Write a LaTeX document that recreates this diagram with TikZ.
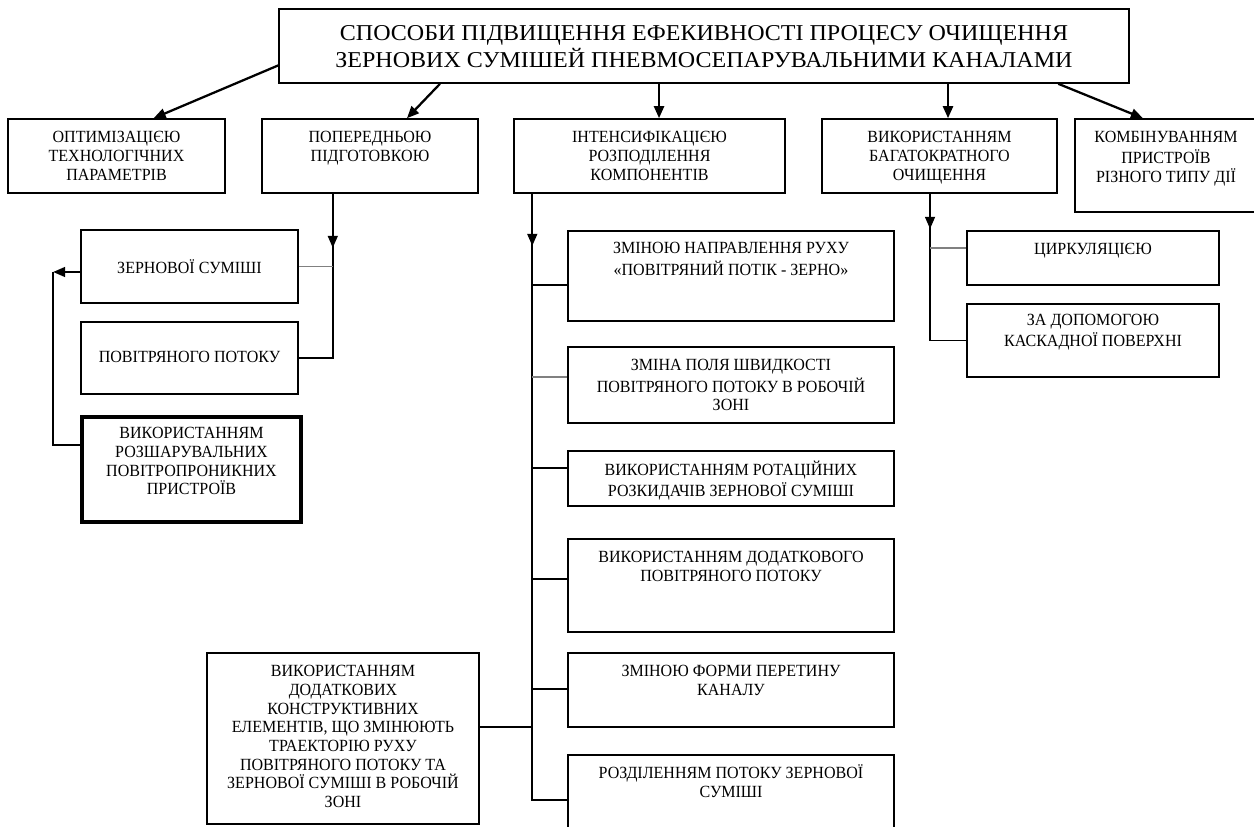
\documentclass[tikz,border=0pt]{standalone}
\usepackage{fontspec}
\setmainfont{Liberation Serif}[FakeStretch=0.94]
\newfontfamily\ttlfont{Liberation Serif}[FakeStretch=1.06]
\usetikzlibrary{arrows.meta,fit,calc}
\begin{document}
\begin{tikzpicture}[x=0.75pt,y=-0.75pt,
  box/.style={draw, line width=1.2pt, inner sep=0pt, rectangle},
  thickbox/.style={box, line width=2.4pt},
  txt/.style={anchor=north, inner sep=0pt, align=center, font=\fontsize{12.8}{14}\selectfont},
  ttl/.style={anchor=north, inner sep=0pt, align=center, font=\ttlfont\fontsize{17}{20.6}\selectfont},
  con/.style={line width=1.2pt},
  gcon/.style={line width=1.2pt, gray},
  arr/.style={line width=1.7pt, -{Triangle[length=9pt,width=7.5pt]}},
  varr/.style={line width=1.2pt, -{Triangle[length=9pt,width=7.5pt]}},
]
\fill[white] (0,0) rectangle (1254,827);
\useasboundingbox (0,0) rectangle (1254,827);

% title
\node[box, fit={(279,9)(1129,83)}] (title) {};
\node[ttl] (titlet) at (704,20.8) {\strut СПОСОБИ ПІДВИЩЕННЯ ЕФЕКИВНОСТІ ПРОЦЕСУ ОЧИЩЕННЯ\\ЗЕРНОВИХ СУМІШЕЙ ПНЕВМОСЕПАРУВАЛЬНИМИ КАНАЛАМИ};

% row of five
\node[box, fit={(8,119)(225,193)}] (b1) {};
\node[txt] (b1t) at (116.5,129.6) {\strut ОПТИМІЗАЦІЄЮ\\ТЕХНОЛОГІЧНИХ\\ПАРАМЕТРІВ};
\node[box, fit={(262,119)(478,193)}] (b2) {};
\node[txt] (b2t) at (370,129.6) {\strut ПОПЕРЕДНЬОЮ\\ПІДГОТОВКОЮ};
\node[box, fit={(514,119)(785,193)}] (b3) {};
\node[txt] (b3t) at (649.5,129.6) {\strut ІНТЕНСИФІКАЦІЄЮ\\РОЗПОДІЛЕННЯ\\КОМПОНЕНТІВ};
\node[box, fit={(822,119)(1057,193)}] (b4) {};
\node[txt] (b4t) at (939.5,129.6) {\strut ВИКОРИСТАННЯМ\\БАГАТОКРАТНОГО\\ОЧИЩЕННЯ};
\node[box, fit={(1075,119)(1257,212)}] (b5) {};
\node[txt] (b5t) at (1166,129.6) {\strut КОМБІНУВАННЯМ\\ПРИСТРОЇВ\\РІЗНОГО ТИПУ ДІЇ};

% left column
\node[box, fit={(81,230)(298,303)}] (zern) {};
\node[txt] (zernt) at (189.5,259.3) {\strut ЗЕРНОВОЇ СУМІШІ};
\node[box, fit={(81,322)(298,394)}] (pov) {};
\node[txt] (povt) at (189.5,349.6) {\strut ПОВІТРЯНОГО ПОТОКУ};
\node[thickbox, fit={(82,417)(301,522)}] (rozsh) {};
\node[txt] (rozsht) at (191.5,425.6) {\strut ВИКОРИСТАННЯМ\\РОЗШАРУВАЛЬНИХ\\ПОВІТРОПРОНИКНИХ\\ПРИСТРОЇВ};

% middle column
\node[box, fit={(568,231)(894,321)}] (m1) {};
\node[txt] (m1t) at (731,240.6) {\strut ЗМІНОЮ НАПРАВЛЕННЯ РУХУ\\«ПОВІТРЯНИЙ ПОТІК - ЗЕРНО»};
\node[box, fit={(568,347)(894,423)}] (m2) {};
\node[txt] (m2t) at (731,357.6) {\strut ЗМІНА ПОЛЯ ШВИДКОСТІ\\ПОВІТРЯНОГО ПОТОКУ В РОБОЧІЙ\\ЗОНІ};
\node[box, fit={(568,451)(894,506)}] (m3) {};
\node[txt] (m3t) at (731,460.6) {\strut ВИКОРИСТАННЯМ РОТАЦІЙНИХ\\РОЗКИДАЧІВ ЗЕРНОВОЇ СУМІШІ};
\node[box, fit={(568,539)(894,632)}] (m4) {};
\node[txt] (m4t) at (731,549.6) {\strut ВИКОРИСТАННЯМ ДОДАТКОВОГО\\ПОВІТРЯНОГО ПОТОКУ};
\node[box, fit={(568,653)(894,727)}] (m5) {};
\node[txt] (m5t) at (731,663.6) {\strut ЗМІНОЮ ФОРМИ ПЕРЕТИНУ\\КАНАЛУ};
\node[box, fit={(568,755)(894,835)}] (m6) {};
\node[txt] (m6t) at (731,764.6) {\strut РОЗДІЛЕННЯМ ПОТОКУ ЗЕРНОВОЇ\\СУМІШІ};
\node[box, fit={(207,653)(479,824)}] (big) {};
\node[txt] (bigt) at (343,663.6) {\strut ВИКОРИСТАННЯМ\\ДОДАТКОВИХ\\КОНСТРУКТИВНИХ\\ЕЛЕМЕНТІВ, ЩО ЗМІНЮЮТЬ\\ТРАЕКТОРІЮ РУХУ\\ПОВІТРЯНОГО ПОТОКУ ТА\\ЗЕРНОВОЇ СУМІШІ В РОБОЧІЙ\\ЗОНІ};

% right column
\node[box, fit={(967,231)(1219,285)}] (c1) {};
\node[txt] (c1t) at (1093,240.9) {\strut ЦИРКУЛЯЦІЄЮ};
\node[box, fit={(967,304)(1219,377)}] (c2) {};
\node[txt] (c2t) at (1093,312.6) {\strut ЗА ДОПОМОГОЮ\\КАСКАДНОЇ ПОВЕРХНІ};

% arrows from the title
\draw[arr] ($(title.south west)!0.243!(title.north west)$) -- ($(b1.north west)!0.67!(b1.north east)$);
\draw[arr] ($(title.south west)!0.19!(title.south east)$) -- ($(b2.north west)!0.67!(b2.north east)$);
\coordinate (a3) at ($(b3.north west)!0.535!(b3.north east)$);
\draw[arr] (a3 |- title.south) -- (a3);
\coordinate (a4) at ($(b4.north west)!0.536!(b4.north east)$);
\draw[arr] (a4 |- title.south) -- (a4);
\draw[arr] ($(title.south west)!0.916!(title.south east)$) -- ($(b5.north west)!0.374!(b5.north east)$);

% left column connectors
\coordinate (l2) at ($(b2.south west)!0.329!(b2.south east)$);
\draw[con] (l2) -- (l2 |- pov.east) -- (pov.east);
\draw[varr] (l2) -- ++(0,54);
\draw[gcon] (zern.east) -- (zern.east -| l2);
\coordinate (fb) at ($(zern.west)+(-27,5.5)$);
\draw[con] ($(rozsh.north west)!0.276!(rozsh.south west)$) -| (fb);
\draw[varr] ($(zern.west)+(0,5.5)$) -- (fb);

% middle column connectors
\coordinate (l3) at ($(b3.south west)!0.07!(b3.south east)$);
\draw[con] (l3) -- ++(0,607) coordinate (l3end);
\draw[varr] (l3) -- ++(0,52);
\coordinate (e1) at ($(m1.north west)!0.6!(m1.south west)$);
\draw[con] (e1) -- (e1 -| l3);
\coordinate (e2) at ($(m2.north west)!0.395!(m2.south west)$);
\draw[gcon] (e2) -- (e2 -| l3);
\coordinate (e3) at ($(m3.north west)!0.31!(m3.south west)$);
\draw[con] (e3) -- (e3 -| l3);
\coordinate (e4) at ($(m4.north west)!0.43!(m4.south west)$);
\draw[con] (e4) -- (e4 -| l3);
\coordinate (e5) at ($(m5.north west)!0.486!(m5.south west)$);
\draw[con] (e5) -- (e5 -| l3);
\coordinate (e6) at ($(m6.north west)!0.5625!(m6.south west)$);
\draw[con] (e6) -- (e6 -| l3);
\coordinate (eb) at ($(big.north east)!0.433!(big.south east)$);
\draw[con] (eb) -- (eb -| l3);

% right column connectors
\coordinate (l4) at ($(b4.south west)!0.46!(b4.south east)$);
\draw[con] (l4) -- (l4 |- c2.west) -- (c2.west);
\draw[varr] (l4) -- ++(0,35);
\coordinate (f1) at ($(c1.north west)!0.315!(c1.south west)$);
\draw[gcon] (f1) -- (f1 -| l4);
\end{tikzpicture}
\end{document}
